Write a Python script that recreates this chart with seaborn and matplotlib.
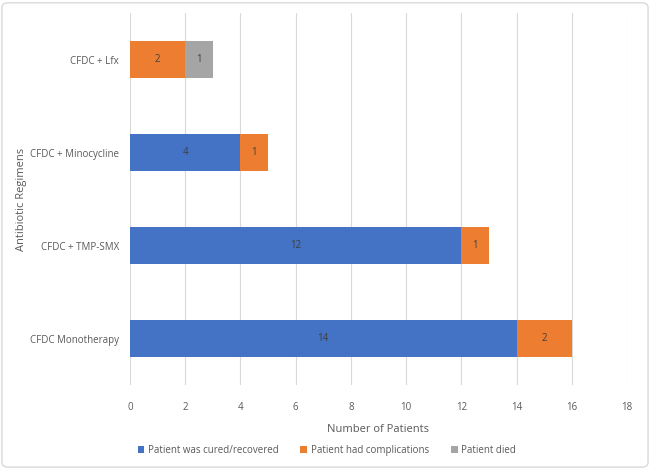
import numpy as np
import pandas as pd
import matplotlib
matplotlib.use("Agg")
import matplotlib.pyplot as plt
from matplotlib.patches import Patch
import seaborn as sns

# данные с графика
regimens = ["CFDC + Lfx", "CFDC + Minocycline", "CFDC + TMP-SMX", "CFDC Monotherapy"]
cured = [0, 4, 12, 14]
complications = [2, 1, 1, 2]
died = [1, 0, 0, 0]
series_names = ["Patient was cured/recovered", "Patient had complications", "Patient died"]
colors = ["#4472C4", "#ED7D31", "#A5A5A5"]
text_col = "#595959"

sns.set_theme(style="white")
plt.rcParams['font.family'] = ['Open Sans', 'DejaVu Sans']

df = pd.DataFrame({"regimen": regimens, "cured": cured,
                   "complications": complications, "died": died})
df["c1"] = df["cured"]
df["c2"] = df["c1"] + df["complications"]
df["c3"] = df["c2"] + df["died"]

fig = plt.figure(figsize=(6.5, 4.69), dpi=100)
ax = fig.add_axes([0.2, 0.179, 0.7646, 0.793])

# накладываем столбцы от суммарного к первому (stacked)
for col, c in zip(["c3", "c2", "c1"], colors[::-1]):
    sns.barplot(data=df, y="regimen", x=col, color=c, orient="h",
                width=0.4, saturation=1, ax=ax, edgecolor="none")

# подписи значений в центре сегментов
for i, row in df.iterrows():
    starts = [0, row["c1"], row["c2"]]
    for s, v in zip(starts, [row["cured"], row["complications"], row["died"]]):
        if v > 0:
            ax.text(s + v / 2, i, str(v), ha="center", va="center",
                    fontsize=7, color="#404040")

ax.set_xlim(0, 18)
ax.set_xticks(np.arange(0, 19, 2))
ax.set_ylim(3.5, -0.5)
ax.grid(axis="x", color="#D9D9D9", linewidth=0.8)
ax.set_axisbelow(True)
for sp in ax.spines.values():
    sp.set_visible(False)
ax.tick_params(axis="y", length=0, labelsize=7, colors=text_col, pad=8)
ax.tick_params(axis="x", length=0, labelsize=7, colors=text_col, pad=12)
ax.set_xlabel("Number of Patients", fontsize=8, color=text_col, labelpad=8)
ax.set_ylabel("Antibiotic Regimens", fontsize=8, color=text_col, labelpad=2)

handles = [Patch(facecolor=c, edgecolor="none") for c in colors]
fig.legend(handles, series_names, loc="center", bbox_to_anchor=(0.503, 0.04),
           ncol=3, frameon=False, fontsize=7, labelcolor=text_col,
           handlelength=0.7, handleheight=0.7, handletextpad=0.4, columnspacing=2.2)

fig.patches.append(matplotlib.patches.FancyBboxPatch(
    (0.003, 0.004), 0.994, 0.99, boxstyle="round,pad=0,rounding_size=0.01",
    transform=fig.transFigure, fill=False, edgecolor="#D9D9D9", linewidth=1))

fig.savefig("out.png", dpi=100)
